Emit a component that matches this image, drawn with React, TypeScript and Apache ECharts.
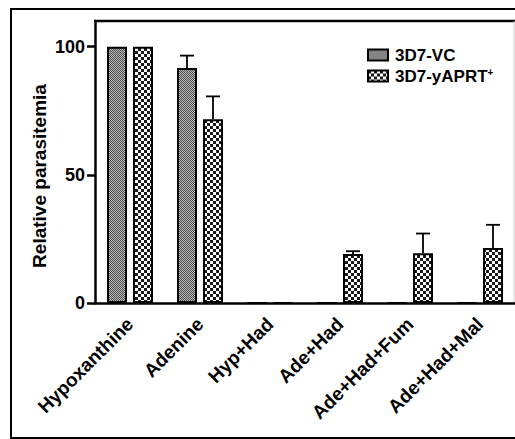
import React, { useEffect, useRef } from "react";
import * as echarts from "echarts";

const categories = ["Hypoxanthine", "Adenine", "Hyp+Had", "Ade+Had", "Ade+Had+Fum", "Ade+Had+Mal"];
const seriesNames = ["3D7-VC", "3D7-yAPRT+"];
const vcValues = [100, 91.7, 0, 0, 0, 0];
const vcErrors = [0, 4.8, 0, 0, 0, 0];
const yaprtValues = [100, 71.7, 0, 19.1, 19.4, 21.5];
const yaprtErrors = [0, 8.9, 0, 1.1, 7.7, 9.0];
const yTicks = [0, 50, 100];

function svgUrl(svg: string) {
  return "data:image/svg+xml;charset=utf-8," + encodeURIComponent(svg);
}

const vcPattern = {
  image: svgUrl(
    "<svg xmlns='http://www.w3.org/2000/svg' width='2' height='2' shape-rendering='crispEdges'>" +
      "<rect width='2' height='2' fill='#b8b8b8'/>" +
      "<rect x='0' y='0' width='1' height='1' fill='#505050'/>" +
      "<rect x='1' y='1' width='1' height='1' fill='#505050'/>" +
      "</svg>"
  ),
  imageWidth: 2,
  imageHeight: 2,
  repeat: "repeat",
};

const yaprtPattern = {
  image: svgUrl(
    "<svg xmlns='http://www.w3.org/2000/svg' width='6' height='6' shape-rendering='crispEdges'>" +
      "<rect width='6' height='6' fill='#ffffff'/>" +
      "<rect x='0' y='0' width='3' height='3' fill='#1a1a1a'/>" +
      "<rect x='3' y='3' width='3' height='3' fill='#1a1a1a'/>" +
      "</svg>"
  ),
  imageWidth: 6,
  imageHeight: 6,
  repeat: "repeat",
};

const BAR_OFFSET = 13;

function errorRenderer(offset: number) {
  return (params: any, api: any) => {
    const x = api.value(0);
    const v = api.value(1);
    const e = api.value(2);
    if (!e) return null;
    const p = api.coord([x, v]);
    const t = api.coord([x, v + e]);
    const cx = p[0] + offset;
    const style = { stroke: "#000", lineWidth: 1.8 };
    return {
      type: "group",
      children: [
        { type: "line", shape: { x1: cx, y1: p[1], x2: cx, y2: t[1] }, style },
        { type: "line", shape: { x1: cx - 7, y1: t[1], x2: cx + 7, y2: t[1] }, style },
      ],
    };
  };
}

export default function App() {
  const ref = useRef<HTMLDivElement>(null);
  useEffect(() => {
    if (!ref.current) return;
    const chart = echarts.init(ref.current, null, { renderer: "svg" });
    const labelFont = {
      fontFamily: "Arial, 'Liberation Sans', sans-serif",
      fontWeight: "bold" as const,
      color: "#000",
    };
    chart.setOption({
      animation: false,
      backgroundColor: "#fff",
      grid: { left: 95, right: 0, top: 21, bottom: 136, outerBoundsMode: "none" },
      legend: {
        data: seriesNames,
        orient: "vertical",
        left: 362,
        top: 41,
        itemWidth: 20,
        itemHeight: 11,
        itemGap: 3,
        icon: "rect",
        textStyle: {
          fontFamily: "'Liberation Sans', Arial, sans-serif",
          fontWeight: "bold",
          fontSize: 17,
          lineHeight: 18,
          color: "#000",
          padding: [0, 0, 0, 2],
          rich: {
            sup: { fontSize: 10, fontWeight: "bold", fontFamily: "'Liberation Sans', Arial, sans-serif", verticalAlign: "top", lineHeight: 10, padding: [0, 0, 6, 0] },
          },
        },
        formatter: (name: string) => (name.endsWith("+") ? name.slice(0, -1) + "{sup|+}" : name),
      },
      xAxis: {
        type: "category",
        data: categories,
        axisLine: { lineStyle: { color: "#000", width: 2.5 } },
        axisTick: { alignWithLabel: true, length: 6, lineStyle: { color: "#000", width: 2 } },
        axisLabel: { ...labelFont, fontSize: 19, rotate: 45, margin: 18, interval: 0 },
      },
      yAxis: {
        type: "value",
        min: 0,
        max: 110,
        interval: 50,
        splitLine: { show: false },
        axisLine: { show: true, lineStyle: { color: "#000", width: 2.5 } },
        axisTick: { show: true, length: 8, lineStyle: { color: "#000", width: 2.5 }, customValues: yTicks },
        axisLabel: { ...labelFont, fontSize: 18, margin: 10, customValues: yTicks },
      },
      graphic: [
        {
          type: "rect",
          shape: { x: 11, y: 9, width: 540, height: 429 },
          style: { fill: "none", stroke: "#000", lineWidth: 2 },
          silent: true,
        },
        {
          type: "line",
          shape: { x1: 94, y1: 21, x2: 515, y2: 21 },
          style: { stroke: "#000", lineWidth: 2.5 },
          silent: true,
        },
        {
          type: "line",
          shape: { x1: 514, y1: 21, x2: 514, y2: 303 },
          style: { stroke: "#cfcfcf", lineWidth: 1 },
          silent: true,
        },
        {
          type: "text",
          x: 39,
          y: 176,
          rotation: Math.PI / 2,
          style: {
            text: "Relative parasitemia",
            fill: "#000",
            font: "bold 19px Arial, 'Liberation Sans', sans-serif",
            textAlign: "center",
            textVerticalAlign: "middle",
          },
          silent: true,
        },
      ],
      series: [
        {
          name: seriesNames[0],
          type: "bar",
          data: vcValues,
          barWidth: 20,
          barGap: "30%",
          itemStyle: { color: vcPattern, borderColor: "#000", borderWidth: 2 },
        },
        {
          name: seriesNames[1],
          type: "bar",
          data: yaprtValues,
          barWidth: 20,
          barGap: "30%",
          itemStyle: { color: yaprtPattern, borderColor: "#000", borderWidth: 2 },
        },
        {
          type: "custom",
          renderItem: errorRenderer(-BAR_OFFSET),
          data: vcValues.map((v, i) => [i, v, vcErrors[i]]),
          z: 3,
        },
        {
          type: "custom",
          renderItem: errorRenderer(BAR_OFFSET),
          data: yaprtValues.map((v, i) => [i, v, yaprtErrors[i]]),
          z: 3,
        },
      ],
    });
    return () => chart.dispose();
  }, []);
  return (
    <div
      ref={ref}
      style={{ position: "absolute", left: 0, top: 0, width: 515, height: 439 }}
    />
  );
}
